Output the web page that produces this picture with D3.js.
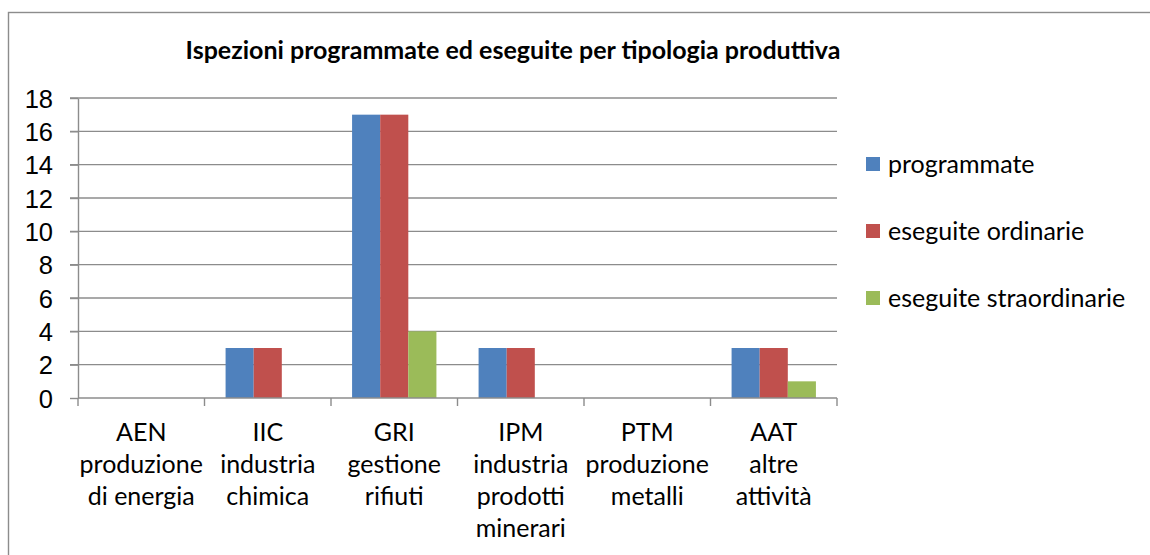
<!DOCTYPE html>
<html>
<head>
<meta charset="utf-8">
<script src="https://cdn.jsdelivr.net/npm/d3@7"></script>
<style>
  body { margin: 0; background: #fff; }
  svg { font-family: Lato, "Open Sans", sans-serif; }
  .grid line { stroke: #8c8c8c; stroke-width: 1.4; }
  .axis path, .axis line { stroke: #8c8c8c; stroke-width: 1.4; }
  .axis text { fill: #000; font-size: 25.5px; }
</style>
</head>
<body>
<svg id="chart"></svg>
<script>
const categories = ["AEN", "IIC", "GRI", "IPM", "PTM", "AAT"];
const categoryLines = [
  ["AEN", "produzione", "di energia"],
  ["IIC", "industria", "chimica"],
  ["GRI", "gestione", "rifiuti"],
  ["IPM", "industria", "prodotti", "minerari"],
  ["PTM", "produzione", "metalli"],
  ["AAT", "altre", "attività"]
];
const seriesNames = ["programmate", "eseguite ordinarie", "eseguite straordinarie"];
const programmate = [0, 3, 17, 3, 0, 3];
const eseguiteOrdinarie = [0, 3, 17, 3, 0, 3];
const eseguiteStraordinarie = [0, 0, 4, 0, 0, 1];
const yTicks = [0, 2, 4, 6, 8, 10, 12, 14, 16, 18];
const colors = ["#4f81bd", "#c0504d", "#9bbb59"];

const W = 1150, H = 555;
const plot = {left: 78, right: 837, top: 98, bottom: 398};

const svg = d3.select("#chart").attr("width", W).attr("height", H);

// outer chart frame (runs off the window at right/bottom)
svg.append("rect")
  .attr("x", 8.5).attr("y", 12.5)
  .attr("width", 1160).attr("height", 580)
  .attr("fill", "#fff").attr("stroke", "#8c8c8c").attr("stroke-width", 1.4);

svg.append("text")
  .attr("x", 513).attr("y", 59)
  .attr("text-anchor", "middle")
  .attr("font-weight", "bold")
  .attr("font-size", "25px")
  .text("Ispezioni programmate ed eseguite per tipologia produttiva");

const data = categories.map((c, i) => ({
  cat: c,
  values: [programmate[i], eseguiteOrdinarie[i], eseguiteStraordinarie[i]]
}));

const x0 = d3.scaleBand().domain(categories).range([plot.left, plot.right]);
const x1 = d3.scaleBand().domain(seriesNames).range([0, x0.bandwidth()]).paddingOuter(0.75);
const y = d3.scaleLinear().domain([0, 18]).range([plot.bottom, plot.top]);

// gridlines
svg.append("g").attr("class", "grid")
  .selectAll("line")
  .data(yTicks.filter(d => d > 0))
  .enter().append("line")
  .attr("x1", plot.left - 8).attr("x2", plot.right)
  .attr("y1", d => y(d)).attr("y2", d => y(d));

// bars
const groups = svg.append("g").selectAll("g")
  .data(data)
  .enter().append("g")
  .attr("transform", d => `translate(${x0(d.cat)},0)`);

groups.selectAll("rect")
  .data(d => d.values.map((v, k) => ({series: seriesNames[k], v: v, k: k})))
  .enter().append("rect")
  .filter(d => d.v > 0)
  .attr("x", d => x1(d.series))
  .attr("width", x1.bandwidth())
  .attr("y", d => y(d.v))
  .attr("height", d => y(0) - y(d.v))
  .attr("fill", d => colors[d.k]);

// y axis
const yAxis = svg.append("g").attr("class", "axis")
  .attr("transform", `translate(${plot.left},0)`)
  .call(d3.axisLeft(y).tickValues(yTicks).tickSize(8).tickPadding(17).tickSizeOuter(0));
yAxis.selectAll("text").attr("dy", "0.36em");

// x axis with ticks at category boundaries
const xAxis = svg.append("g").attr("class", "axis")
  .attr("transform", `translate(0,${plot.bottom})`);
xAxis.append("line")
  .attr("x1", plot.left).attr("x2", plot.right).attr("y1", 0).attr("y2", 0);
xAxis.selectAll("line.tick")
  .data(categories.map(c => x0(c)).concat([plot.right]))
  .enter().append("line")
  .attr("class", "tick")
  .attr("x1", d => d).attr("x2", d => d)
  .attr("y1", 0).attr("y2", 8);

const labels = xAxis.selectAll("text.cat")
  .data(categoryLines)
  .enter().append("text")
  .attr("class", "cat")
  .attr("text-anchor", "middle")
  .style("font-size", "25px")
  .attr("x", (d, i) => x0(categories[i]) + x0.bandwidth() / 2)
  .attr("y", 43);
labels.selectAll("tspan")
  .data(d => d)
  .enter().append("tspan")
  .attr("x", function() { return d3.select(this.parentNode).attr("x"); })
  .attr("dy", (d, i) => i === 0 ? 0 : 32)
  .text(d => d);

// legend
const legend = svg.append("g").selectAll("g")
  .data(seriesNames)
  .enter().append("g")
  .attr("transform", (d, i) => `translate(866,${164 + i * 67})`);
legend.append("rect")
  .attr("x", 0).attr("y", -7).attr("width", 14).attr("height", 14)
  .attr("fill", (d, i) => colors[i]);
legend.append("text")
  .attr("x", 22).attr("y", 0).attr("dy", "0.34em")
  .attr("font-size", "25px")
  .text(d => d);
</script>
</body>
</html>
